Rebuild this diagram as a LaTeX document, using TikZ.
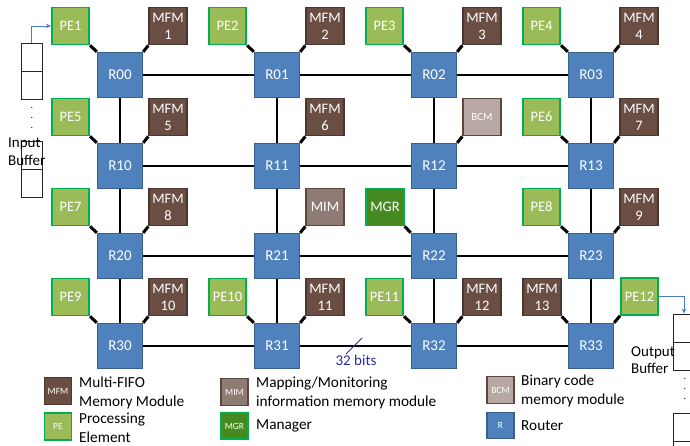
\documentclass[tikz,border=0pt]{standalone}
\usepackage{fontspec}
\setmainfont{Carlito}
\usetikzlibrary{arrows.meta}
\definecolor{routerF}{HTML}{4F81BD}
\definecolor{routerB}{HTML}{3A5F8B}
\definecolor{peF}{HTML}{9BBB59}
\definecolor{peB}{HTML}{00B050}
\definecolor{mfmF}{HTML}{6A4E43}
\definecolor{mfmB}{HTML}{4A3830}
\definecolor{mimF}{HTML}{8E7B74}
\definecolor{mimB}{HTML}{5A4740}
\definecolor{bcmF}{HTML}{B8A8A3}
\definecolor{bcmB}{HTML}{5E463D}
\definecolor{mgrF}{HTML}{468A1F}
\definecolor{navytxt}{HTML}{2B2E9E}
\definecolor{arrowblue}{HTML}{4A7CC4}
\tikzset{
  boxbase/.style={inner sep=0pt, align=center, text=white, font=\fontsize{14.5}{17}\selectfont},
  router/.style={boxbase, draw=routerB, fill=routerF, line width=1.3pt, minimum width=45pt, minimum height=45pt, font=\fontsize{15}{17}\selectfont},
  pe/.style={boxbase, draw=peB, fill=peF, line width=1.6pt, minimum width=37.5pt, minimum height=37pt},
  mfm/.style={boxbase, draw=mfmB, fill=mfmF, line width=1.3pt, minimum width=38pt, minimum height=37.5pt},
  mim/.style={boxbase, draw=mimB, fill=mimF, line width=1.3pt, minimum width=38pt, minimum height=37.5pt},
  bcm/.style={boxbase, draw=bcmB, fill=bcmF, line width=1.3pt, minimum width=38pt, minimum height=37.5pt, font=\fontsize{11}{13}\selectfont},
  mgr/.style={boxbase, draw=peB, fill=mgrF, line width=1.6pt, minimum width=37.5pt, minimum height=37pt},
  link/.style={line width=1.7pt, black},
  stub/.style={line width=3pt, black},
  lg/.style={minimum width=27pt, minimum height=26.5pt, font=\fontsize{9.5}{11}\selectfont},
  lgtxt/.style={inner sep=0pt, anchor=west, align=left, font=\fontsize{15.3}{19}\selectfont},
  bufcell/.style={draw=black!85, line width=0.9pt, minimum width=21pt, minimum height=28pt, inner sep=0pt},
  barrow/.style={draw=arrowblue, line width=0.9pt, -{Stealth[length=5pt,width=4.5pt]}},
  dotty/.style={inner sep=0pt, font=\fontsize{10}{10}\selectfont}
}
\begin{document}
\begin{tikzpicture}[x=1pt,y=-1pt]
\useasboundingbox (0,0) rectangle (690,446);
\begin{scope}
\clip (0,0) rectangle (690,446);
% routers
\node[router] (r00) at (120,75) {R00};
\node[router] (r01) at (277,75) {R01};
\node[router] (r02) at (434,75) {R02};
\node[router] (r03) at (591,75) {R03};
\node[router] (r10) at (120,166) {R10};
\node[router] (r11) at (277,166) {R11};
\node[router] (r12) at (434,166) {R12};
\node[router] (r13) at (591,166) {R13};
\node[router] (r20) at (120,256) {R20};
\node[router] (r21) at (277,256) {R21};
\node[router] (r22) at (434,256) {R22};
\node[router] (r23) at (591,256) {R23};
\node[router] (r30) at (120,346) {R30};
\node[router] (r31) at (277,346) {R31};
\node[router] (r32) at (434,346) {R32};
\node[router] (r33) at (591,346) {R33};
% mesh links
\foreach \r in {0,1,2,3}{
  \draw[link] (r\r0) -- (r\r1);
  \draw[link] (r\r1) -- (r\r2);
  \draw[link] (r\r2) -- (r\r3);
  \draw[link] (r0\r) -- (r1\r);
  \draw[link] (r1\r) -- (r2\r);
  \draw[link] (r2\r) -- (r3\r);
}
% satellites
\node[pe]  (pe1)  at ([shift={(-49.5,-49)}]r00.center) {PE1};
\node[mfm] (m1)   at ([shift={(48,-49)}]r00.center) {MFM\\1};
\node[pe]  (pe2)  at ([shift={(-49.5,-49)}]r01.center) {PE2};
\node[mfm] (m2)   at ([shift={(48,-49)}]r01.center) {MFM\\2};
\node[pe]  (pe3)  at ([shift={(-49.5,-49)}]r02.center) {PE3};
\node[mfm] (m3)   at ([shift={(48,-49)}]r02.center) {MFM\\3};
\node[pe]  (pe4)  at ([shift={(-49.5,-49)}]r03.center) {PE4};
\node[mfm] (m4)   at ([shift={(48,-49)}]r03.center) {MFM\\4};
\node[pe]  (pe5)  at ([shift={(-49.5,-49)}]r10.center) {PE5};
\node[mfm] (m5)   at ([shift={(48,-49)}]r10.center) {MFM\\5};
\node[mfm] (m6)   at ([shift={(48,-49)}]r11.center) {MFM\\6};
\node[bcm] (bcm)  at ([shift={(48,-49)}]r12.center) {BCM};
\node[pe]  (pe6)  at ([shift={(-49.5,-49)}]r13.center) {PE6};
\node[mfm] (m7)   at ([shift={(48,-49)}]r13.center) {MFM\\7};
\node[pe]  (pe7)  at ([shift={(-49.5,-49)}]r20.center) {PE7};
\node[mfm] (m8)   at ([shift={(48,-49)}]r20.center) {MFM\\8};
\node[mim] (mim)  at ([shift={(48,-49)}]r21.center) {MIM};
\node[mgr] (mgr)  at ([shift={(-49,-49)}]r22.center) {MGR};
\node[pe]  (pe8)  at ([shift={(-49.5,-49)}]r23.center) {PE8};
\node[mfm] (m9)   at ([shift={(48,-49)}]r23.center) {MFM\\9};
\node[pe]  (pe9)  at ([shift={(-49.5,-49)}]r30.center) {PE9};
\node[mfm] (m10)  at ([shift={(48,-49)}]r30.center) {MFM\\10};
\node[pe]  (pe10) at ([shift={(-49.5,-49)}]r31.center) {PE10};
\node[mfm] (m11)  at ([shift={(48,-49)}]r31.center) {MFM\\11};
\node[pe]  (pe11) at ([shift={(-49.5,-49)}]r32.center) {PE11};
\node[mfm] (m12)  at ([shift={(48,-49)}]r32.center) {MFM\\12};
\node[mfm] (m13)  at ([shift={(-49,-49)}]r33.center) {MFM\\13};
\node[pe]  (pe12) at ([shift={(48.5,-49.5)}]r33.center) {PE12};
% stubs (top-left)
\foreach \s/\r in {pe1/r00,pe2/r01,pe3/r02,pe4/r03,pe5/r10,pe6/r13,pe7/r20,mgr/r22,pe8/r23,pe9/r30,pe10/r31,pe11/r32,m13/r33}
  \draw[stub] (\s.south east) -- (\r.north west);
% stubs (top-right)
\foreach \s/\r in {m1/r00,m2/r01,m3/r02,m4/r03,m5/r10,m6/r11,bcm/r12,m7/r13,m8/r20,mim/r21,m9/r23,m10/r30,m11/r31,m12/r32,pe12/r33}
  \draw[stub] (\s.south west) -- (\r.north east);
% 32 bits
\coordinate (bitA) at (346,354);
\coordinate (bitB) at (362,338);
\draw[navytxt, line width=0.9pt] (bitA) -- (bitB);
\node[inner sep=0pt, text=navytxt, font=\fontsize{15}{18}\selectfont] (bits) at (356,360) {32 bits};
% input buffer
\node[bufcell] (ib1) at (31.5,57) {};
\node[bufcell] (ib2) at (31.5,85) {};
\node[dotty] (ibd1) at (32,108) {.};
\node[dotty] (ibd2) at (32,118) {.};
\node[dotty] (ibd3) at (32,128) {.};
\node[bufcell] (ib3) at (31.5,155.5) {};
\node[bufcell] (ib4) at (31.5,183.5) {};
\node[lgtxt, font=\fontsize{15}{17.5}\selectfont] (ibt) at (8,151.5) {Input\\Buffer};
\draw[barrow] (ib1.north) |- (pe1.west);
% output buffer
\node[bufcell] (ob1) at (684,328) {};
\node[bufcell] (ob2) at (684,356) {};
\node[dotty] (obd1) at (685,379) {.};
\node[dotty] (obd2) at (685,389) {.};
\node[dotty] (obd3) at (685,399) {.};
\node[bufcell] (ob3) at (684,427.5) {};
\node[bufcell] (ob4) at (684,455.5) {};
\node[lgtxt, font=\fontsize{15}{17.5}\selectfont] (obt) at (631,360) {Output\\Buffer};
\draw[barrow] (pe12.east) -| (ob1.north);
% legend
\node[mfm, lg] (lmfm) at (58,391) {MFM};
\node[lgtxt] (tmfm) at (79,392.5) {Multi-FIFO\\Memory Module};
\node[pe, lg] (lpe) at (58,426.5) {PE};
\node[lgtxt] (tpe) at (79,428) {Processing\\Element};
\node[mim, lg] (lmim) at (234.5,392) {MIM};
\node[lgtxt] (tmim) at (256,392.5) {Mapping/Monitoring\\information memory module};
\node[mgr, lg] (lmgr) at (234.5,426) {MGR};
\node[lgtxt] (tmgr) at (256,426) {Manager};
\node[bcm, lg] (lbcm) at (500.5,390) {BCM};
\node[lgtxt] (tbcm) at (521,390.5) {Binary code\\memory module};
\node[router, lg] (lr) at (500.5,425.5) {R};
\node[lgtxt] (tr) at (521,426) {Router};
\end{scope}
\end{tikzpicture}
\end{document}
